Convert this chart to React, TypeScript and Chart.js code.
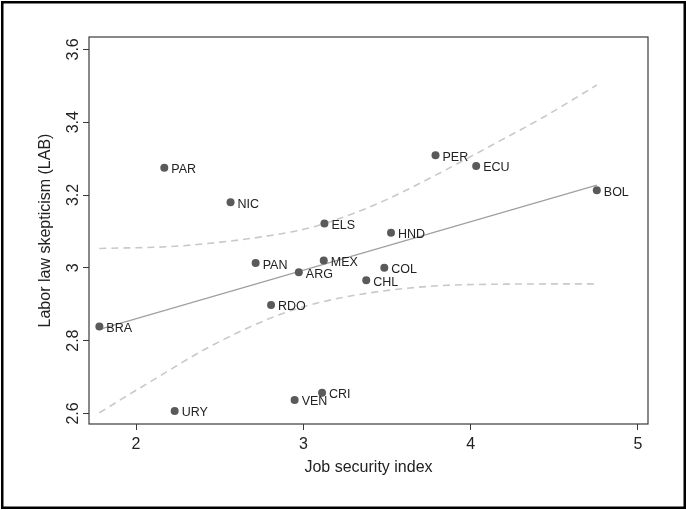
import React, { useEffect, useRef } from "react";
import { Chart, registerables } from "chart.js";

Chart.register(...registerables);

const countries = ["PAR", "NIC", "PAN", "ARG", "MEX", "ELS", "HND", "COL", "CHL", "PER", "ECU", "BOL", "RDO", "BRA", "URY", "VEN", "CRI"];
const jobSecurity = [2.169, 2.565, 2.715, 2.973, 3.122, 3.126, 3.524, 3.484, 3.376, 3.79, 4.033, 4.754, 2.807, 1.781, 2.231, 2.948, 3.112];
const skepticism = [3.275, 3.18, 3.013, 2.988, 3.02, 3.122, 3.096, 3.0, 2.966, 3.309, 3.28, 3.213, 2.898, 2.839, 2.607, 2.637, 2.657];

const fitX = [1.781, 4.754];
const fitY = [2.831, 3.227];

const upperX = [1.781, 2.26, 2.86, 3.08, 3.36, 3.52, 3.78, 4.18, 4.44, 4.754];
const upperY = [3.053, 3.06, 3.093, 3.115, 3.16, 3.192, 3.252, 3.35, 3.415, 3.502];
const lowerX = [1.781, 2.06, 2.46, 2.86, 3.1, 3.38, 3.78, 4.18, 4.754];
const lowerY = [2.602, 2.68, 2.788, 2.872, 2.905, 2.93, 2.95, 2.955, 2.956];

const xTicks = [2, 3, 4, 5];
const xTickLabels = ["2", "3", "4", "5"];
const yTicks = [2.6, 2.8, 3.0, 3.2, 3.4, 3.6];
const yTickLabels = ["2.6", "2.8", "3", "3.2", "3.4", "3.6"];

const xTitle = "Job security index";
const yTitle = "Labor law skepticism (LAB)";

const FONT = "'Liberation Sans', Arial, Helvetica, sans-serif";

const zip = (xs: number[], ys: number[]) => xs.map((x, i) => ({ x, y: ys[i] }));

const framePlugin = {
  id: "frame",
  beforeDraw(chart: any) {
    const ctx = chart.ctx;
    ctx.save();
    ctx.fillStyle = "#ffffff";
    ctx.fillRect(0, 0, chart.width, chart.height);
    ctx.strokeStyle = "#000000";
    ctx.lineWidth = 2.5;
    ctx.strokeRect(2.25, 2.25, chart.width - 3.5, chart.height - 4.5);
    ctx.restore();
  },
  afterDraw(chart: any) {
    const { left, top, right, bottom } = chart.chartArea;
    const ctx = chart.ctx;
    ctx.save();
    ctx.strokeStyle = "#3a3a3a";
    ctx.lineWidth = 1.2;
    ctx.strokeRect(left, top, right - left, bottom - top);
    ctx.restore();
  },
};

const labelPlugin = {
  id: "pointLabels",
  afterDatasetsDraw(chart: any) {
    const meta = chart.getDatasetMeta(0);
    const ctx = chart.ctx;
    ctx.save();
    ctx.font = `12.5px ${FONT}`;
    ctx.fillStyle = "#222222";
    ctx.textAlign = "left";
    ctx.textBaseline = "middle";
    meta.data.forEach((pt: any, i: number) => {
      ctx.fillText(countries[i], pt.x + 7, pt.y + 2);
    });
    ctx.restore();
  },
};

export default function App() {
  const ref = useRef<HTMLCanvasElement | null>(null);

  useEffect(() => {
    if (!ref.current) return;
    const chart = new Chart(ref.current, {
      type: "scatter",
      data: {
        datasets: [
          {
            label: "countries",
            data: zip(jobSecurity, skepticism),
            backgroundColor: "#5a5a5a",
            borderWidth: 0,
            pointRadius: 4,
            showLine: false,
          },
          {
            label: "fit",
            data: zip(fitX, fitY),
            showLine: true,
            borderColor: "#a0a0a0",
            borderWidth: 1.3,
            pointRadius: 0,
          },
          {
            label: "upper",
            data: zip(upperX, upperY),
            showLine: true,
            borderColor: "#c9c9c9",
            borderWidth: 1.6,
            borderDash: [7, 5],
            pointRadius: 0,
            cubicInterpolationMode: "monotone",
          },
          {
            label: "lower",
            data: zip(lowerX, lowerY),
            showLine: true,
            borderColor: "#c9c9c9",
            borderWidth: 1.6,
            borderDash: [7, 5],
            pointRadius: 0,
            cubicInterpolationMode: "monotone",
          },
        ],
      },
      options: {
        animation: false,
        responsive: false,
        devicePixelRatio: 1,
        layout: { padding: { left: 0, top: 37, right: 38, bottom: 0 } },
        plugins: {
          legend: { display: false },
          tooltip: { enabled: false },
        },
        scales: {
          x: {
            type: "linear",
            min: 1.719,
            max: 5.06,
            afterBuildTicks: (s: any) => {
              s.ticks = xTicks.map((v) => ({ value: v }));
            },
            afterFit: (s: any) => {
              s.height = 86;
            },
            ticks: {
              autoSkip: false,
              padding: 5,
              color: "#222",
              font: { family: FONT, size: 16 },
              callback: (_v: any, i: number) => xTickLabels[i],
            },
            grid: {
              display: true,
              drawOnChartArea: false,
              drawTicks: true,
              tickLength: 6,
              color: "#3a3a3a",
              lineWidth: 1,
            },
            border: { display: false },
            title: {
              display: true,
              text: xTitle,
              color: "#222",
              font: { family: FONT, size: 16 },
              padding: { top: 0, bottom: 33 },
            },
          },
          y: {
            type: "linear",
            min: 2.571,
            max: 3.634,
            afterBuildTicks: (s: any) => {
              s.ticks = yTicks.map((v) => ({ value: v }));
            },
            afterFit: (s: any) => {
              s.width = 89;
            },
            ticks: {
              autoSkip: false,
              minRotation: 90,
              maxRotation: 90,
              crossAlign: "center",
              padding: -2,
              color: "#222",
              font: { family: FONT, size: 16 },
              callback: (_v: any, i: number) => yTickLabels[i],
            },
            grid: {
              display: true,
              drawOnChartArea: false,
              drawTicks: true,
              tickLength: 6,
              color: "#3a3a3a",
              lineWidth: 1,
            },
            border: { display: false },
            title: {
              display: true,
              text: yTitle,
              color: "#222",
              font: { family: FONT, size: 16 },
              padding: { top: 36, bottom: 0 },
            },
          },
        },
      },
      plugins: [framePlugin, labelPlugin],
    } as any);
    return () => chart.destroy();
  }, []);

  return (
    <div style={{ position: "fixed", left: 0, top: 0, width: 686, height: 510, background: "#fff" }}>
      <canvas ref={ref} width={686} height={510} style={{ display: "block", width: 686, height: 510 }} />
    </div>
  );
}
